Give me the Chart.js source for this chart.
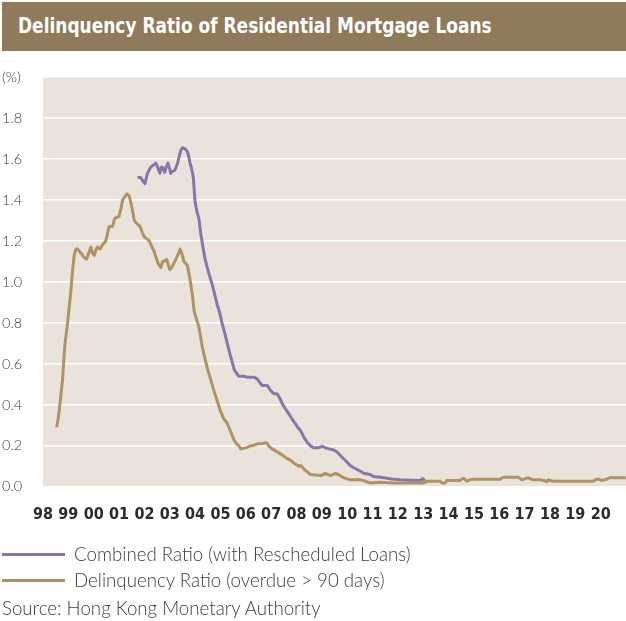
<!DOCTYPE html>
<html lang="en">
<head>
    <meta charset="UTF-8">
    <title>Delinquency Ratio of Residential Mortgage Loans</title>
    <script src="https://cdn.jsdelivr.net/npm/chart.js"></script>
    <style>
        body { margin: 0; background: #fff; width: 626px; height: 621px; position: relative; overflow: hidden; }
        .title-bar {
            position: absolute; left: 2px; top: 2px; width: 624px; height: 49px;
            background: #8f7a5b; overflow: hidden;
        }
        .title-bar span {
            position: absolute; left: 16px; top: 0; color: #fff; white-space: nowrap;
            font-family: "Liberation Sans Narrow", "DejaVu Sans Condensed", sans-serif;
            font-weight: bold; font-size: 21px; line-height: 49px;
            transform: scaleX(0.9); transform-origin: left center;
        }
        .chart-box { position: absolute; left: 0; top: 55px; width: 626px; height: 487px; }
        .legend { position: absolute; left: 2px; top: 541px; font-family: Lato, "Open Sans", sans-serif; font-weight: 300; font-size: 18.7px; color: #3c3c3c; }
        .legend div { height: 26px; line-height: 26px; display: flex; align-items: center; }
        .legend span.swatch { display: inline-block; width: 63px; height: 3px; margin-right: 9px; }
        .source { position: absolute; left: 2px; top: 596px; font-family: Lato, "Open Sans", sans-serif; font-weight: 300; font-size: 18.7px; color: #3c3c3c; line-height: 24px; }
    </style>
</head>
<body>
    <div class="title-bar"><span>Delinquency Ratio of Residential Mortgage Loans</span></div>
    <div class="chart-box"><canvas id="mortgageChart"></canvas></div>
    <div class="legend">
        <div><span class="swatch" style="background:#8b74aa"></span>Combined Ratio (with Rescheduled Loans)</div>
        <div><span class="swatch" style="background:#ae9462"></span>Delinquency Ratio (overdue &gt; 90 days)</div>
    </div>
    <div class="source">Source: Hong Kong Monetary Authority</div>

    <script>
        // x-axis labels, one per year from 1998
        const yearLabels = ['98', '99', '00', '01', '02', '03', '04', '05', '06', '07', '08',
            '09', '10', '11', '12', '13', '14', '15', '16', '17', '18', '19', '20'];

        // Delinquency ratio (overdue > 90 days), %
        const delinquencyYears = [
            1998.54, 1998.62, 1998.70, 1998.77, 1998.82, 1998.87, 1998.97, 1999.02, 1999.08, 1999.17,
            1999.23, 1999.30, 1999.37, 1999.50, 1999.62, 1999.72, 1999.80, 1999.89, 1999.95, 2000.02,
            2000.10, 2000.15, 2000.25, 2000.34, 2000.48, 2000.55, 2000.61, 2000.74, 2000.83, 2001.00,
            2001.08, 2001.14, 2001.25, 2001.31, 2001.40, 2001.44, 2001.53, 2001.60, 2001.66, 2001.75,
            2001.83, 2001.92, 2001.99, 2002.10, 2002.19, 2002.30, 2002.38, 2002.46, 2002.54, 2002.65,
            2002.72, 2002.78, 2002.88, 2002.95, 2003.01, 2003.12, 2003.24, 2003.35, 2003.41, 2003.50,
            2003.56, 2003.70, 2003.76, 2003.83, 2003.90, 2003.96, 2004.05, 2004.15, 2004.22, 2004.29,
            2004.38, 2004.48, 2004.60, 2004.74, 2004.87, 2005.00, 2005.14, 2005.27, 2005.40, 2005.53,
            2005.63, 2005.73, 2005.80, 2006.00, 2006.19, 2006.26, 2006.45, 2006.60, 2006.82, 2006.90,
            2007.04, 2007.25, 2007.50, 2007.60, 2007.76, 2007.90, 2008.09, 2008.16, 2008.35, 2008.55,
            2008.94, 2009.07, 2009.14, 2009.25, 2009.34, 2009.53, 2009.65, 2009.86, 2010.12, 2010.52,
            2010.70, 2010.91, 2011.31, 2011.83, 2012.49, 2013.01, 2013.10, 2013.67, 2013.75, 2013.85,
            2013.93, 2014.46, 2014.55, 2014.62, 2014.72, 2014.85, 2014.98, 2016.03, 2016.16, 2016.75,
            2016.89, 2017.02, 2017.15, 2017.30, 2017.61, 2017.80, 2017.87, 2017.93, 2018.13, 2019.70,
            2019.83, 2019.95, 2020.03, 2020.23, 2020.35, 2020.99
        ];
        const delinquencyValues = [
            0.29, 0.35, 0.44, 0.52, 0.62, 0.70, 0.80, 0.86, 0.93, 1.06,
            1.13, 1.16, 1.16, 1.14, 1.12, 1.11, 1.14, 1.17, 1.14, 1.13,
            1.16, 1.17, 1.16, 1.18, 1.20, 1.24, 1.27, 1.27, 1.31, 1.32,
            1.36, 1.40, 1.42, 1.43, 1.42, 1.40, 1.35, 1.30, 1.29, 1.28,
            1.27, 1.24, 1.22, 1.21, 1.20, 1.17, 1.15, 1.12, 1.09, 1.07,
            1.10, 1.10, 1.11, 1.08, 1.06, 1.08, 1.11, 1.14, 1.16, 1.13,
            1.10, 1.08, 1.04, 0.99, 0.93, 0.86, 0.82, 0.78, 0.73, 0.68,
            0.63, 0.58, 0.53, 0.47, 0.42, 0.37, 0.33, 0.31, 0.27, 0.23,
            0.21, 0.20, 0.185, 0.19, 0.20, 0.20, 0.21, 0.21, 0.215, 0.20,
            0.185, 0.17, 0.15, 0.14, 0.13, 0.115, 0.10, 0.105, 0.08, 0.06,
            0.055, 0.06, 0.066, 0.06, 0.055, 0.066, 0.06, 0.044, 0.034, 0.034,
            0.028, 0.018, 0.022, 0.018, 0.018, 0.018, 0.027, 0.027, 0.018, 0.018,
            0.031, 0.031, 0.04, 0.04, 0.027, 0.035, 0.037, 0.037, 0.047, 0.047,
            0.034, 0.04, 0.044, 0.035, 0.034, 0.03, 0.024, 0.034, 0.027, 0.027,
            0.037, 0.037, 0.031, 0.037, 0.044, 0.044
        ];

        // Combined ratio (with rescheduled loans), %
        const combinedYears = [
            2001.73, 2001.86, 2001.95, 2002.02, 2002.08, 2002.12, 2002.25, 2002.35, 2002.45, 2002.52,
            2002.61, 2002.66, 2002.71, 2002.80, 2002.86, 2002.93, 2003.00, 2003.04, 2003.12, 2003.20,
            2003.30, 2003.37, 2003.43, 2003.50, 2003.60, 2003.70, 2003.75, 2003.80, 2003.87, 2003.93,
            2003.97, 2004.00, 2004.08, 2004.15, 2004.22, 2004.29, 2004.38, 2004.48, 2004.57, 2004.67,
            2004.77, 2004.87, 2004.97, 2005.06, 2005.17, 2005.27, 2005.37, 2005.46, 2005.55, 2005.66,
            2005.73, 2005.90, 2006.06, 2006.20, 2006.32, 2006.45, 2006.55, 2006.65, 2006.85, 2006.98,
            2007.11, 2007.24, 2007.35, 2007.44, 2007.57, 2007.70, 2007.83, 2007.96, 2008.05, 2008.16,
            2008.30, 2008.42, 2008.55, 2008.68, 2008.85, 2009.01, 2009.15, 2009.27, 2009.47, 2009.60,
            2009.73, 2009.86, 2010.00, 2010.12, 2010.26, 2010.52, 2010.65, 2010.91, 2011.04, 2011.31,
            2011.44, 2011.75, 2012.09, 2012.50, 2012.88, 2012.98, 2013.05, 2013.15
        ];
        const combinedValues = [
            1.51, 1.51, 1.49, 1.48, 1.51, 1.53, 1.56, 1.57, 1.58, 1.56,
            1.53, 1.56, 1.56, 1.535, 1.56, 1.58, 1.55, 1.53, 1.54, 1.545,
            1.575, 1.61, 1.64, 1.655, 1.65, 1.635, 1.61, 1.58, 1.55, 1.51,
            1.44, 1.39, 1.34, 1.31, 1.24, 1.185, 1.12, 1.07, 1.03, 0.99,
            0.94, 0.89, 0.85, 0.80, 0.75, 0.70, 0.65, 0.61, 0.57, 0.55,
            0.54, 0.54, 0.535, 0.535, 0.535, 0.527, 0.51, 0.494, 0.494, 0.47,
            0.454, 0.454, 0.43, 0.405, 0.38, 0.356, 0.33, 0.307, 0.29, 0.275,
            0.24, 0.218, 0.20, 0.19, 0.19, 0.197, 0.19, 0.185, 0.18, 0.17,
            0.153, 0.137, 0.12, 0.104, 0.093, 0.076, 0.066, 0.06, 0.05, 0.047,
            0.044, 0.038, 0.034, 0.032, 0.031, 0.04, 0.03, 0.02
        ];

        const toPoints = (xs, ys) => xs.map((x, i) => ({ x: x, y: ys[i] }));

        const plotBackground = {
            id: 'plotBackground',
            beforeDraw(chart) {
                const a = chart.chartArea;
                const ctx = chart.ctx;
                ctx.save();
                ctx.fillStyle = '#e9e3dc';
                ctx.fillRect(a.left, a.top, a.right - a.left, a.bottom - a.top);
                ctx.restore();
            }
        };

        const ctx = document.getElementById('mortgageChart').getContext('2d');
        new Chart(ctx, {
            type: 'line',
            data: {
                datasets: [{
                    label: 'Delinquency Ratio (overdue > 90 days)',
                    data: toPoints(delinquencyYears, delinquencyValues),
                    borderColor: '#ae9462',
                    borderWidth: 3,
                    pointRadius: 0,
                    pointHoverRadius: 0,
                    borderJoinStyle: 'round',
                    fill: false
                }, {
                    label: 'Combined Ratio (with Rescheduled Loans)',
                    data: toPoints(combinedYears, combinedValues),
                    borderColor: '#8b74aa',
                    borderWidth: 3,
                    pointRadius: 0,
                    pointHoverRadius: 0,
                    borderJoinStyle: 'round',
                    fill: false
                }]
            },
            options: {
                responsive: true,
                maintainAspectRatio: false,
                animation: false,
                layout: { autoPadding: false, padding: { left: 2, top: 22, right: 0, bottom: 0 } },
                plugins: {
                    legend: { display: false },
                    tooltip: { enabled: false }
                },
                scales: {
                    x: {
                        type: 'linear',
                        min: 1998,
                        max: 2021,
                        afterFit: s => { s.paddingRight = 0; },
                        grid: { display: false, drawTicks: false },
                        border: { display: false },
                        ticks: {
                            stepSize: 1,
                            autoSkip: false,
                            maxRotation: 0,
                            padding: 18,
                            color: '#2b2b2b',
                            font: { family: '"Liberation Sans Narrow", "DejaVu Sans Condensed", sans-serif', weight: 'bold', size: 16 },
                            callback: v => yearLabels[v - 1998] || ''
                        }
                    },
                    y: {
                        min: 0,
                        max: 2,
                        afterFit: s => { s.width = 41; },
                        grid: { color: '#ffffff', lineWidth: 1.5, drawTicks: false },
                        border: { display: false },
                        ticks: {
                            stepSize: 0.2,
                            crossAlign: 'far',
                            color: '#3c3c3c',
                            font: { family: 'Lato, "Open Sans", sans-serif', weight: 300, size: 14.5 },
                            callback: v => (Math.abs(v - 2) < 1e-6 ? '(%)' : v.toFixed(1))
                        }
                    }
                }
            },
            plugins: [plotBackground]
        });
    </script>
</body>
</html>
